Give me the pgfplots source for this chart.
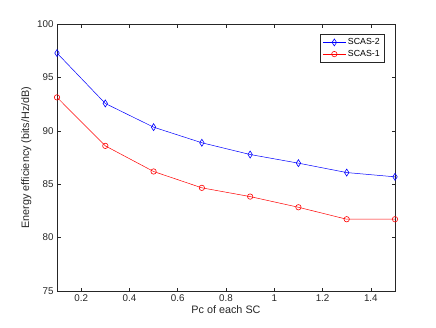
\documentclass[border=0pt]{standalone}
\usepackage{pgfplots}
\pgfplotsset{compat=1.18}
\usepackage{fontspec}
\setmainfont{Liberation Sans}
\definecolor{axgray}{rgb}{0.15,0.15,0.15}
\begin{document}
\begin{tikzpicture}[x=1pt,y=1pt]
\begin{axis}[
    scale only axis,
    width=338pt,
    height=267pt,
    xmin=0.1, xmax=1.5,
    ymin=75, ymax=100,
    xtick={0.2,0.4,...,1.4},
    ytick={75,80,...,100},
    xticklabels={0.2,0.4,0.6,0.8,1,1.2,1.4},
    tick align=inside,
    major tick length=3.5pt,
    axis line style={axgray, line width=0.5pt},
    every tick/.style={axgray, line width=0.5pt},
    tick label style={font=\fontsize{9.8}{11}\selectfont, text=axgray},
    /pgf/number format/assume math mode=true,
    xlabel={Pc of each SC},
    ylabel={Energy efficiency (bits/Hz/dB)},
    label style={font=\fontsize{10.8}{12}\selectfont, text=axgray},
    xlabel style={yshift=3pt},
    ylabel style={yshift=-1pt},
    legend style={at={(0.968,0.962)}, anchor=north east, draw=axgray, line width=0.5pt,
        font=\fontsize{8.8}{10.5}\selectfont, row sep=0pt, inner sep=2.2pt,
        cells={anchor=west}},
    legend image code/.code={
        \draw[mark repeat=2,mark phase=2] plot coordinates {(0cm,0cm) (0.4cm,0cm) (0.8cm,0cm)};},
]
\coordinate (sw) at (rel axis cs:0,0);
\coordinate (ne) at (rel axis cs:1,1);
\addplot[blue, line width=0.5pt, mark=diamond, mark size=3.5pt, mark options={xscale=0.85, line width=0.6pt}]
  coordinates {(0.1,97.28) (0.3,92.56) (0.5,90.34) (0.7,88.88) (0.9,87.78) (1.1,86.97) (1.3,86.09) (1.5,85.69)};
\addlegendentry{SCAS-2}
\addplot[red, line width=0.5pt, mark=o, mark size=2.7pt, mark options={line width=0.6pt}]
  coordinates {(0.1,93.13) (0.3,88.59) (0.5,86.19) (0.7,84.66) (0.9,83.84) (1.1,82.84) (1.3,81.72) (1.5,81.72)};
\addlegendentry{SCAS-1}
\end{axis}
\path[use as bounding box] ([xshift=-57pt,yshift=-36pt]sw) rectangle ([xshift=41pt,yshift=24pt]ne);
\end{tikzpicture}
\end{document}
